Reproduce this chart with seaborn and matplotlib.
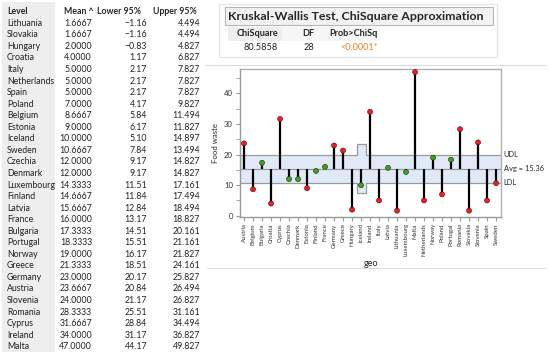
import numpy as np
import pandas as pd
import matplotlib
matplotlib.use("Agg")
import matplotlib.pyplot as plt
from matplotlib.patches import Rectangle
from matplotlib.lines import Line2D
import matplotlib.transforms as mtransforms
import seaborn as sns

# table rows, sorted by mean (as in the report)
levels = ["Lithuania", "Slovakia", "Hungary", "Croatia", "Italy", "Netherlands", "Spain",
          "Poland", "Belgium", "Estonia", "Iceland", "Sweden", "Czechia", "Denmark",
          "Luxembourg", "Finland", "Latvia", "France", "Bulgaria", "Portugal", "Norway",
          "Greece", "Germany", "Austria", "Slovenia", "Romania", "Cyprus", "Ireland", "Malta"]
means = [1.6667, 1.6667, 2.0, 4.0, 5.0, 5.0, 5.0, 7.0, 8.6667, 9.0, 10.0, 10.6667, 12.0, 12.0,
         14.3333, 14.6667, 15.6667, 16.0, 17.3333, 18.3333, 19.0, 21.3333, 23.0, 23.6667,
         24.0, 28.3333, 31.6667, 34.0, 47.0]
lower95 = [-1.16, -1.16, -0.83, 1.17, 2.17, 2.17, 2.17, 4.17, 5.84, 6.17, 5.10, 7.84, 9.17, 9.17,
           11.51, 11.84, 12.84, 13.17, 14.51, 15.51, 16.17, 18.51, 20.17, 20.84, 21.17, 25.51,
           28.84, 31.17, 44.17]
upper95 = [4.494, 4.494, 4.827, 6.827, 7.827, 7.827, 7.827, 9.827, 11.494, 11.827, 14.897,
           13.494, 14.827, 14.827, 17.161, 17.494, 18.494, 18.827, 20.161, 21.161, 21.827,
           24.161, 25.827, 26.494, 26.827, 31.161, 34.494, 36.827, 49.827]

# Kruskal-Wallis result
chi_square = "80.5858"
dof = "28"
prob = "<0.0001*"

# analysis of means limits
grand_avg = 15.36
half_limit = 4.6
wide_half_limit = {"Iceland": 8.05}   # single observation group

W, H = 550, 359
sns.set_style("white")
plt.rcParams["font.family"] = ["Lato", "DejaVu Sans"]

fig = plt.figure(figsize=(W / 100, H / 100), dpi=100)


def fx(x):
    return x / W


def fy(y):
    return 1 - y / H


# ---- left table ----
fig.add_artist(Rectangle((fx(2), fy(352)), fx(53), (350) / H, transform=fig.transFigure,
                         color="#eeeeee", lw=0, zorder=0))
fs = 6.3
hfs = 6.3
hy = 11.5
fig.text(fx(7), fy(hy), "Level", fontsize=hfs, fontweight="bold", va="center")
fig.text(fx(94), fy(hy), "Mean ^", fontsize=hfs, fontweight="bold", va="center", ha="right")
fig.text(fx(141), fy(hy), "Lower 95%", fontsize=hfs, fontweight="bold", va="center", ha="right")
fig.text(fx(197), fy(hy), "Upper 95%", fontsize=hfs, fontweight="bold", va="center", ha="right")
for i, lev in enumerate(levels):
    y = 23.3 + i * 11.55
    fig.text(fx(7), fy(y), lev, fontsize=fs, va="center", color="#222222")
    fig.text(fx(92), fy(y), f"{means[i]:.4f}", fontsize=fs, va="center", ha="right", color="#222222")
    fig.text(fx(147), fy(y), f"{lower95[i]:.2f}".replace("-", "\u2212"), fontsize=fs,
             va="center", ha="right", color="#222222")
    fig.text(fx(200), fy(y), f"{upper95[i]:.3f}", fontsize=fs, va="center", ha="right",
             color="#222222")

# ---- Kruskal-Wallis panel ----
fig.add_artist(Rectangle((fx(219), fy(57)), fx(278), 53 / H, transform=fig.transFigure,
                         facecolor="white", edgecolor="#e4e4e4", lw=0.8, zorder=0))
fig.add_artist(Rectangle((fx(225), fy(25)), fx(268), 18 / H, transform=fig.transFigure,
                         facecolor="#f2f2f2", edgecolor="#b5b5b5", lw=0.8))
fig.text(fx(228), fy(16), "Kruskal-Wallis Test, ChiSquare Approximation", fontsize=8.9,
         fontweight="bold", va="center")
fig.add_artist(Rectangle((fx(228), fy(41)), fx(54), 14 / H, transform=fig.transFigure,
                         color="#eeeeee", lw=0))
fig.add_artist(Rectangle((fx(282), fy(41)), fx(98), 14 / H, transform=fig.transFigure,
                         color="#f6f6f6", lw=0))
fig.text(fx(278), fy(34), "ChiSquare", fontsize=6.6, fontweight="bold", va="center", ha="right")
fig.text(fx(314), fy(34), "DF", fontsize=6.6, fontweight="bold", va="center", ha="right")
fig.text(fx(378), fy(34), "Prob>ChiSq", fontsize=6.6, fontweight="bold", va="center", ha="right")
fig.text(fx(278), fy(48), chi_square, fontsize=6.6, va="center", ha="right", color="#222222")
fig.text(fx(314), fy(48), dof, fontsize=6.6, va="center", ha="right", color="#222222")
fig.text(fx(378), fy(48), prob, fontsize=6.6, va="center", ha="right", color="#f08020")

# separators
fig.add_artist(Line2D([fx(205), fx(545)], [fy(65), fy(65)], transform=fig.transFigure,
                      color="#dddddd", lw=0.8))
fig.add_artist(Line2D([fx(207), fx(545)], [fy(268), fy(268)], transform=fig.transFigure,
                      color="#dddddd", lw=0.8))

# ---- analysis of means chart ----
df = pd.DataFrame({"geo": levels, "mean": means}).sort_values("geo").reset_index(drop=True)
df["half"] = [wide_half_limit.get(g, half_limit) for g in df["geo"]]
df["udl"] = grand_avg + df["half"]
df["ldl"] = grand_avg - df["half"]
df["flag"] = np.where((df["mean"] > df["udl"]) | (df["mean"] < df["ldl"]), "out", "in")
pos = np.arange(len(df))

ax = fig.add_axes([fx(240), fy(217), fx(261), (217 - 69) / H])

xs = np.repeat(pos, 2) + np.tile([-0.5, 0.5], len(pos))
ax.fill_between(xs, np.repeat(df["ldl"], 2), np.repeat(df["udl"], 2), color="#dfe9f8",
                lw=0, zorder=1)
ax.plot(xs, np.repeat(df["udl"], 2), color="#9a9a9a", lw=0.9, zorder=2)
ax.plot(xs, np.repeat(df["ldl"], 2), color="#9a9a9a", lw=0.9, zorder=2)
ax.axhline(grand_avg, color="#9a9a9a", lw=0.9, zorder=2)

ax.vlines(pos, grand_avg, df["mean"], color="black", lw=1.6, zorder=3)
sns.scatterplot(data=df, x="geo", y="mean", hue="flag",
                palette={"out": "#ee1c24", "in": "#1db31d"}, s=13, linewidth=0.4,
                edgecolor="#600000", legend=False, ax=ax, zorder=4)

ax.set_xlim(-0.45, len(df) - 0.45)
ax.set_ylim(-0.4, 48)
ax.set_xticks(pos)
ax.set_xticklabels(df["geo"], rotation=90, fontsize=4.4, color="#333333")
ax.set_yticks([0, 10, 20, 30, 40])
ax.set_yticks([5, 15, 25, 35, 45], minor=True)
ax.tick_params(axis="y", labelsize=5.6, colors="#333333", length=3, direction="out", which="both",
               left=True, color="#999999", pad=2)
ax.tick_params(axis="x", length=3, direction="out", bottom=True, color="#999999", pad=1.5)
ax.set_xlabel("geo", fontsize=6.5, labelpad=2)
ax.set_ylabel("Food waste", fontsize=5.6, labelpad=4)
for s in ax.spines.values():
    s.set_color("#b0b0b0")
    s.set_linewidth(1.0)
ax.spines["left"].set_color("#999999")
ax.spines["bottom"].set_color("#999999")

trans = mtransforms.blended_transform_factory(ax.transAxes, ax.transData)
ax.text(1.01, grand_avg + half_limit, "UDL", transform=trans, fontsize=5.4, va="center")
ax.text(1.01, grand_avg, f"Avg = {grand_avg:.2f}", transform=trans, fontsize=5.4, va="center")
ax.text(1.01, grand_avg - half_limit, "LDL", transform=trans, fontsize=5.4, va="center")

fig.savefig("out.png", dpi=100)
